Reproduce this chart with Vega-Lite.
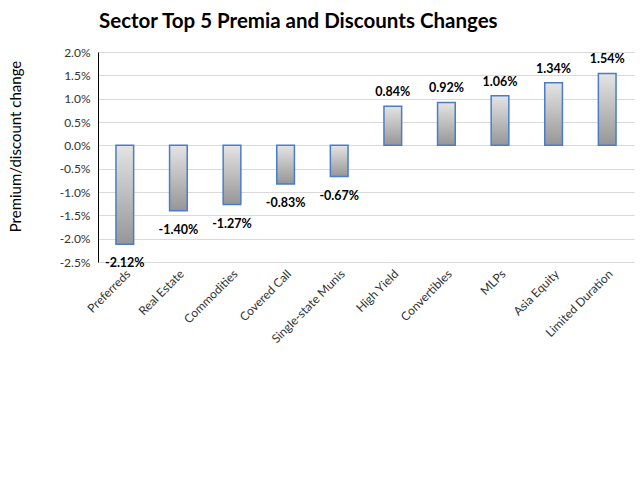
{
  "$schema": "https://vega.github.io/schema/vega-lite/v6.json",
  "autosize": "none",
  "width": 536,
  "height": 210,
  "padding": {"left": 98, "top": 52, "right": 6, "bottom": 218},
  "background": "white",
  "config": {"view": {"stroke": null}, "font": "Lato"},
  "title": {
    "text": "Sector Top 5 Premia and Discounts Changes",
    "font": "Lato",
    "fontSize": 20.5,
    "fontWeight": "bold",
    "color": "#000000",
    "anchor": "start",
    "frame": "group",
    "dx": 1,
    "offset": 14
  },
  "data": {
    "values": [
      {"sector": "Preferreds", "change": -0.0212},
      {"sector": "Real Estate", "change": -0.0140},
      {"sector": "Commodities", "change": -0.0127},
      {"sector": "Covered Call", "change": -0.0083},
      {"sector": "Single-state Munis", "change": -0.0067},
      {"sector": "High Yield", "change": 0.0084},
      {"sector": "Convertibles", "change": 0.0092},
      {"sector": "MLPs", "change": 0.0106},
      {"sector": "Asia Equity", "change": 0.0134},
      {"sector": "Limited Duration", "change": 0.0154}
    ]
  },
  "encoding": {
    "x": {
      "field": "sector",
      "type": "nominal",
      "sort": null,
      "scale": {"paddingInner": 0.67, "paddingOuter": 0.335},
      "axis": {
        "title": null,
        "labelAngle": -45,
        "labelFont": "Lato",
        "labelFontSize": 12,
        "labelColor": "#333333",
        "labelPadding": 6,
        "ticks": false,
        "domain": false,
        "grid": false
      }
    },
    "y": {
      "field": "change",
      "type": "quantitative",
      "scale": {"domain": [-0.025, 0.02], "nice": false, "zero": false},
      "axis": {
        "title": "Premium/discount change",
        "titleFont": "Lato",
        "titleFontSize": 15,
        "titleFontWeight": "normal",
        "titleColor": "#000000",
        "titleX": -83,
        "titleY": 94,
        "titleBaseline": "middle",
        "titleAngle": -90,
        "labelExpr": "replace(format(datum.value, '.1%'), '\u2212', '-')",
        "values": [-0.025, -0.02, -0.015, -0.01, -0.005, 0, 0.005, 0.01, 0.015, 0.02],
        "labelFont": "Lato",
        "labelFontSize": 12,
        "labelColor": "#333333",
        "labelPadding": 8,
        "ticks": false,
        "domain": true,
        "domainColor": "#000000",
        "domainWidth": 1,
        "grid": true,
        "gridColor": "#d9d9d9",
        "gridWidth": 1
      }
    }
  },
  "layer": [
    {
      "mark": {
        "type": "bar",
        "stroke": "#4a7cc9",
        "strokeWidth": 1.5,
        "fill": {
          "gradient": "linear",
          "x1": 0, "y1": 0, "x2": 0, "y2": 1,
          "stops": [
            {"offset": 0, "color": "#e4e4e4"},
            {"offset": 1, "color": "#969696"}
          ]
        }
      }
    },
    {
      "transform": [
        {"filter": "datum.change > 0"},
        {"calculate": "replace(format(datum.change, '.2%'), '\u2212', '-')", "as": "label"}
      ],
      "mark": {"type": "text", "font": "Lato", "fontSize": 12.5, "fontWeight": "bold", "color": "#000000", "baseline": "middle", "dy": -14},
      "encoding": {"text": {"field": "label", "type": "nominal"}}
    },
    {
      "transform": [
        {"filter": "datum.change < 0"},
        {"calculate": "replace(format(datum.change, '.2%'), '\u2212', '-')", "as": "label"}
      ],
      "mark": {"type": "text", "font": "Lato", "fontSize": 12.5, "fontWeight": "bold", "color": "#000000", "baseline": "middle", "dy": 19},
      "encoding": {"text": {"field": "label", "type": "nominal"}}
    }
  ]
}
